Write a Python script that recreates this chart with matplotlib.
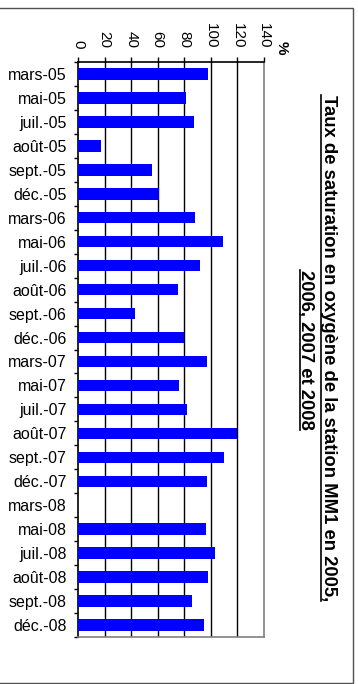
import numpy as np
import matplotlib
matplotlib.use("Agg")
import matplotlib.pyplot as plt
from matplotlib.lines import Line2D
from matplotlib.patches import Rectangle

plt.rcParams['font.family'] = ['Liberation Sans', 'DejaVu Sans']

# sampling campaigns, station MM1
dates = [
    "mars-05", "mai-05", "juil.-05", "août-05", "sept.-05", "déc.-05",
    "mars-06", "mai-06", "juil.-06", "août-06", "sept.-06", "déc.-06",
    "mars-07", "mai-07", "juil.-07", "août-07", "sept.-07", "déc.-07",
    "mars-08", "mai-08", "juil.-08", "août-08", "sept.-08", "déc.-08",
]
# oxygen saturation (%), no measurement for mars-08
saturation = [
    98, 81, 87, 17, 56, 61,
    88, 109, 92, 75, 43, 80,
    97, 76, 82, 120, 110, 97,
    np.nan, 96, 103, 98, 86, 95,
]
ticks = [0, 20, 40, 60, 80, 100, 120, 140]

title_1 = "Taux de saturation en oxygène de la station MM1 en 2005,"
title_2 = "2006, 2007 et 2008"

W, H = 358, 684
fig = plt.figure(figsize=(W / 100, H / 100), dpi=100)
ax = fig.add_axes([78 / W, 47 / H, 186 / W, 575 / H])

y = np.arange(len(dates))
ax.barh(y, saturation, height=0.48, color="#0000ff", zorder=3)

ax.set_xlim(0, 140)
ax.set_ylim(len(dates) - 0.5, -0.5)
ax.xaxis.tick_top()
ax.set_xticks(ticks)
ax.set_xticklabels([str(t) for t in ticks], rotation=270, fontsize=11)
ax.tick_params(axis="x", direction="out", length=3.3, pad=6.5, width=1)

ax.set_yticks(y)
ax.set_yticklabels(dates, fontsize=11.5)
ax.tick_params(axis="y", which="major", length=0, pad=8)
ax.set_yticks(np.arange(len(dates) + 1) - 0.5, minor=True)
ax.tick_params(axis="y", which="minor", direction="out", length=3, width=1)

for t in ticks[1:-1]:
    ax.axvline(t, color="black", lw=1, zorder=1)

ax.spines["top"].set_color("black")
ax.spines["left"].set_color("black")
ax.spines["right"].set_color("#808080")
ax.spines["bottom"].set_color("#808080")
for s in ax.spines.values():
    s.set_linewidth(1.2)

fig.text(282 / W, (H - 48) / H, "%", rotation=270, fontsize=11,
         fontweight="bold", ha="center", va="center")

t1 = fig.text(328 / W, (H - 348) / H, title_1, rotation=270, fontsize=13.3,
              fontweight="bold", ha="center", va="center")
t2 = fig.text(306 / W, (H - 350) / H, title_2, rotation=270, fontsize=13.3,
              fontweight="bold", ha="center", va="center")

# underline the rotated title lines
fig.canvas.draw()
r = fig.canvas.get_renderer()
for t in (t1, t2):
    bb = t.get_window_extent(r)
    x = (bb.x0 + 2) / W
    fig.add_artist(Line2D([x, x], [bb.y0 / H, bb.y1 / H], color="black",
                          lw=1.2, transform=fig.transFigure))

fig.add_artist(Rectangle((-0.02, 1 / H), 353 / W + 0.02, (H - 9) / H,
                         transform=fig.transFigure, fill=False,
                         edgecolor="#505050", lw=1))

fig.savefig("out.png", dpi=100)
